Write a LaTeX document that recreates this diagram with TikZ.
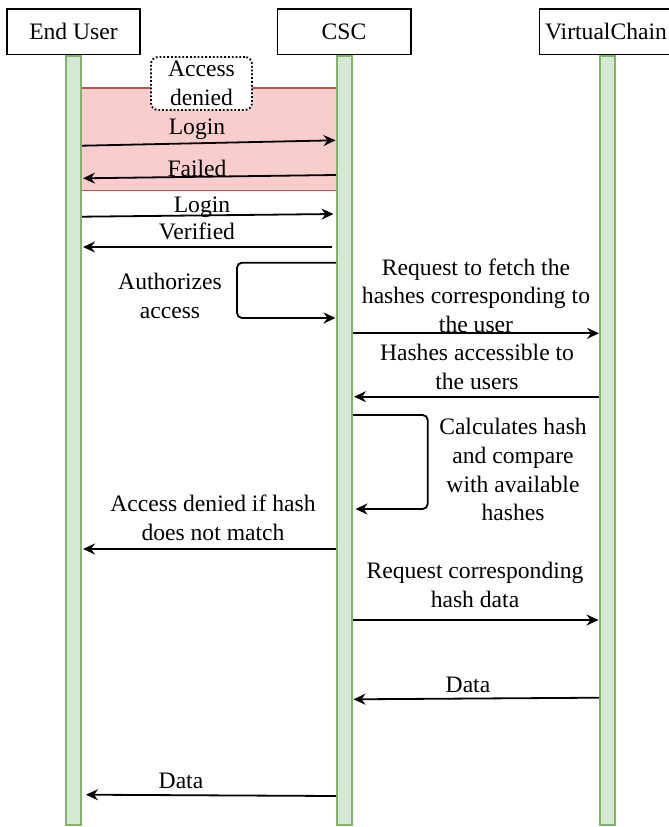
\documentclass[tikz,border=0pt]{standalone}
\usepackage{fontspec}
\setmainfont{Liberation Serif}
\usetikzlibrary{arrows.meta}
\definecolor{lifefill}{HTML}{D5E8D4}
\definecolor{lifedraw}{HTML}{82B366}
\definecolor{altfill}{HTML}{F8CECC}
\definecolor{altdraw}{HTML}{B85450}

\begin{document}
\begin{tikzpicture}[x=1pt,y=-1pt,
  every node/.style={font=\fontsize{23.6}{28.6}\selectfont, inner sep=0pt, outer sep=0pt},
  head/.style={draw=black, line width=1.6pt, fill=white, minimum width=133.4pt, minimum height=45.4pt},
  life/.style={draw=lifedraw, fill=lifefill, line width=2pt, minimum width=15pt, minimum height=769pt},
  altbox/.style={draw=altdraw, fill=altfill, line width=1.6pt, minimum width=270pt, minimum height=102.8pt},
  note/.style={draw=black, dotted, line width=1.8pt, fill=white, rounded corners=7pt,
               minimum width=101pt, minimum height=53pt, align=center},
  msg/.style={draw=black, line width=1.8pt, -{Stealth[length=12pt,width=11pt,inset=4pt]}},
  loopmsg/.style={msg, rounded corners=5pt},
  lbl/.style={align=center, text=black},
]
\useasboundingbox (0,0) rectangle (669,827);

% alternative fragment behind the first exchange
\node[altbox] (alt) at (209,139.1) {};

% lifelines
\node[life] (lEU) at (73.5,440.5) {};
\node[life] (lCSC) at (344.5,440.5) {};
\node[life] (lVC) at (607.5,440.5) {};

% participant headers
\node[head] (hEU) at (73.5,31.7) {End User};
\node[head] (hCSC) at (344,31.7) {CSC};
\node[head] (hVC) at (606,31.7) {VirtualChain};

% fragment note
\node[note] (deny) at (201.5,83.5) {Access\\denied};

% message end points
\coordinate (m1s) at (82,145.7);   \coordinate (m1e) at (335.5,140.3);
\coordinate (m2s) at (336,175);    \coordinate (m2e) at (83,178.3);
\coordinate (m3s) at (82,216.7);   \coordinate (m3e) at (333.5,214);
\coordinate (m4s) at (332,247);    \coordinate (m4e) at (83,247);
\coordinate (m5s) at (336,262.7);  \coordinate (m5c) at (237,290);   \coordinate (m5e) at (335.5,318);
\coordinate (m6s) at (352.7,333.3);\coordinate (m6e) at (599,333.3);
\coordinate (m7s) at (598.7,396.7);\coordinate (m7e) at (354,396.7);
\coordinate (m8s) at (353,415);    \coordinate (m8c) at (427.7,460); \coordinate (m8e) at (355.5,509);
\coordinate (m9s) at (336,549);    \coordinate (m9e) at (83,549);
\coordinate (m10s) at (353,620);   \coordinate (m10e) at (598.5,620);
\coordinate (m11s) at (599,697.7); \coordinate (m11e) at (353.5,699.3);
\coordinate (m12s) at (336,796);   \coordinate (m12e) at (86,794.7);

% messages
\draw[msg] (m1s) -- (m1e);
\draw[msg] (m2s) -- (m2e);
\draw[msg] (m3s) -- (m3e);
\draw[msg] (m4s) -- (m4e);
\draw[loopmsg] (m5s) -| (m5c) |- (m5e);
\draw[msg] (m6s) -- (m6e);
\draw[msg] (m7s) -- (m7e);
\draw[loopmsg] (m8s) -| (m8c) |- (m8e);
\draw[msg] (m9s) -- (m9e);
\draw[msg] (m10s) -- (m10e);
\draw[msg] (m11s) -- (m11e);
\draw[msg] (m12s) -- (m12e);

% message labels
\node[lbl] (t1) at (197,129) {Login};
\node[lbl] (t2) at (197,168) {Failed};
\node[lbl] (t3) at (202,207) {Login};
\node[lbl] (t4) at (197,231.7) {Verified};
\node[lbl] (t5) at (170,296) {Authorizes\\access};
\node[lbl] (t6) at (476,295.7) {Request to fetch the\\hashes corresponding to\\the user};
\node[lbl] (t7) at (477,367) {Hashes accessible to\\the users};
\node[lbl] (t8) at (513,469.8) {Calculates hash\\and compare\\with available\\hashes};
\node[lbl] (t9) at (213,517.5) {Access denied if hash\\does not match};
\node[lbl] (t10) at (475,585) {Request corresponding\\hash data};
\node[lbl] (t11) at (468,685) {Data};
\node[lbl] (t12) at (181,780.7) {Data};
\end{tikzpicture}
\end{document}
